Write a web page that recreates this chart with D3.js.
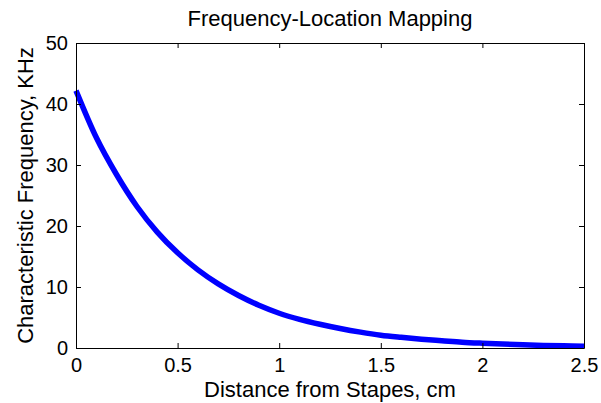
<!DOCTYPE html>
<html>
<head>
<meta charset="utf-8">
<script src="https://cdn.jsdelivr.net/npm/d3@7"></script>
<style>
  body { margin: 0; background: #fff; }
  text { font-family: "Liberation Sans", Arial, sans-serif; fill: #000; }
</style>
</head>
<body>
<div id="chart"></div>
<script>
// Data
var distance = [0, 0.1, 0.2, 0.3, 0.4, 0.5, 0.6, 0.7, 0.8, 0.9, 1.0, 1.1, 1.2,
  1.3, 1.4, 1.5, 1.6, 1.7, 1.8, 1.9, 2.0, 2.1, 2.2, 2.3, 2.4, 2.5];
var frequency = [42.2, 34.5, 28.4, 23.2, 19.0, 15.6, 12.8, 10.5, 8.6, 7.0, 5.7, 4.7, 3.9,
  3.2, 2.6, 2.1, 1.75, 1.45, 1.2, 0.95, 0.78, 0.64, 0.53, 0.43, 0.36, 0.3];
var xTicks = [0, 0.5, 1, 1.5, 2, 2.5];
var yTicks = [0, 10, 20, 30, 40, 50];

// Set up space
var svgWidth = 601;
var svgHeight = 403;
var margin = { top: 43, right: 17, bottom: 55, left: 76 };
var width = svgWidth - margin.left - margin.right;
var height = svgHeight - margin.top - margin.bottom;

var svg = d3.select("#chart")
  .append("svg")
  .attr("width", svgWidth)
  .attr("height", svgHeight);

var chartGroup = svg.append("g")
  .attr("transform", `translate(${margin.left}, ${margin.top})`);

// Scales
var xScale = d3.scaleLinear().domain([0, 2.5]).range([0, width]);
var yScale = d3.scaleLinear().domain([0, 50]).range([height, 0]);

// Curve
var points = distance.map((d, i) => [d, frequency[i]]);
var line = d3.line()
  .x(d => xScale(d[0]))
  .y(d => yScale(d[1]))
  .curve(d3.curveMonotoneX);

chartGroup.append("path")
  .datum(points)
  .attr("d", line)
  .attr("fill", "none")
  .attr("stroke", "#0000ff")
  .attr("stroke-width", 5.5)
  .attr("stroke-linejoin", "round");

// Axes (MATLAB style, ticks inside on all sides)
var bottomAxis = d3.axisBottom(xScale).tickValues(xTicks)
  .tickSizeInner(-5).tickSizeOuter(0).tickPadding(10).tickFormat(d3.format(""));
var leftAxis = d3.axisLeft(yScale).tickValues(yTicks)
  .tickSizeInner(-5).tickSizeOuter(0).tickPadding(8);
var topAxis = d3.axisTop(xScale).tickValues(xTicks)
  .tickSizeInner(-5).tickSizeOuter(0).tickFormat("");
var rightAxis = d3.axisRight(yScale).tickValues(yTicks)
  .tickSizeInner(-5).tickSizeOuter(0).tickFormat("");

chartGroup.append("g").attr("transform", `translate(0, ${height})`).call(bottomAxis);
chartGroup.append("g").call(leftAxis);
chartGroup.append("g").call(topAxis);
chartGroup.append("g").attr("transform", `translate(${width}, 0)`).call(rightAxis);

chartGroup.selectAll(".tick text")
  .style("font-size", "20px")
  .style("font-family", "'Liberation Sans', Arial, sans-serif")
  .attr("fill", "#000");
chartGroup.selectAll(".domain, .tick line").attr("stroke", "#000");

// Labels
svg.append("text")
  .attr("x", margin.left + width / 2)
  .attr("y", 26)
  .attr("text-anchor", "middle")
  .style("font-size", "22px")
  .text("Frequency-Location Mapping");

svg.append("text")
  .attr("x", margin.left + width / 2)
  .attr("y", 397)
  .attr("text-anchor", "middle")
  .style("font-size", "22px")
  .text("Distance from Stapes, cm");

svg.append("text")
  .attr("transform", `translate(33, ${margin.top + height / 2}) rotate(-90)`)
  .attr("text-anchor", "middle")
  .style("font-size", "22px")
  .text("Characteristic Frequency, KHz");
</script>
</body>
</html>
